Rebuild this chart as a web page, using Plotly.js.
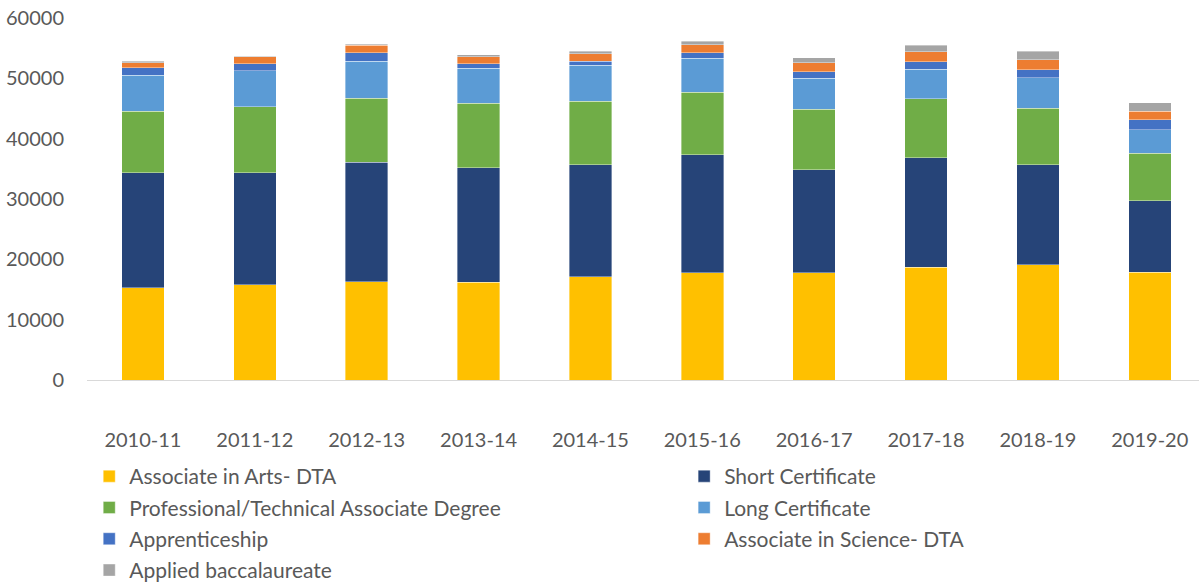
<!DOCTYPE html>
<html>
<head>
<meta charset="utf-8">
<script src="https://cdn.plot.ly/plotly-3.0.1.min.js"></script>
<style>html,body{margin:0;padding:0;background:#fff;}#chart{width:1199px;height:584px;}</style>
</head>
<body>
<div id="chart"></div>
<script>
const years = ["2010-11","2011-12","2012-13","2013-14","2014-15","2015-16","2016-17","2017-18","2018-19","2019-20"];
const associateArts = [15300,15750,16300,16240,17130,17740,17740,18730,19120,17850];
const shortCert = [19060,18610,19830,18950,18560,19610,17070,18120,16570,11820];
const profTech = [10180,10940,10610,10670,10500,10330,10060,9730,9340,7900];
const longCert = [6010,5920,6080,5850,5970,5640,5140,4920,5030,3870];
const apprenticeship = [1220,1210,1440,720,710,880,1090,1260,1380,1710];
const associateScience = [830,1110,1210,1160,1220,1330,1500,1610,1660,1390];
const appliedBacc = [220,160,220,280,390,610,820,1100,1430,1420];

const seriesNames = ["Associate in Arts- DTA","Short Certificate","Professional/Technical Associate Degree","Long Certificate","Apprenticeship","Associate in Science- DTA","Applied baccalaureate"];
const seriesValues = [associateArts, shortCert, profTech, longCert, apprenticeship, associateScience, appliedBacc];
const colors = ["#FFC000","#264478","#70AD47","#5B9BD5","#4472C4","#ED7D31","#A5A5A5"];
// left legend column: even indices, right column: odd indices
const legendFor = ["legend","legend2","legend","legend2","legend","legend2","legend"];

const traces = seriesNames.map((n,i)=>({
  type:"bar", name:n, x:years, y:seriesValues[i],
  legend:legendFor[i], legendgroup:"g"+i,
  marker:{color:colors[i], line:{color:"rgba(255,255,255,0.5)", width:0.75}},
  hoverinfo:"name+y"
}));

const font = {family:"Lato, 'Noto Sans', sans-serif", size:20, color:"#595959"};
const legFont = {family:"Lato, 'Noto Sans', sans-serif", size:21, color:"#595959"};
const legBase = {orientation:"v", xanchor:"left", y:-0.21, yanchor:"top",
                 traceorder:"grouped", tracegroupgap:1, itemwidth:30, font:legFont,
                 bgcolor:"rgba(0,0,0,0)"};
const layout = {
  width:1199, height:584,
  barmode:"stack", bargap:0.62,
  margin:{l:87, r:0, t:18, b:204, autoexpand:false},
  paper_bgcolor:"#fff", plot_bgcolor:"#fff",
  font:font,
  showlegend:true,
  legend:Object.assign({x:0.002}, legBase),
  legend2:Object.assign({x:0.537}, legBase),
  xaxis:{type:"category", range:[-0.5,9.44], showgrid:false, showline:true, linecolor:"#d9d9d9", linewidth:1,
         ticks:"", ticklabelstandoff:42, tickfont:font, fixedrange:true},
  yaxis:{range:[0,60000], dtick:10000, showgrid:false, zeroline:false, showline:false,
         ticks:"", ticklabelstandoff:22, tickfont:font, tickformat:"d", fixedrange:true}
};
Plotly.newPlot("chart", traces, layout, {displayModeBar:false, staticPlot:true});
</script>
</body>
</html>
